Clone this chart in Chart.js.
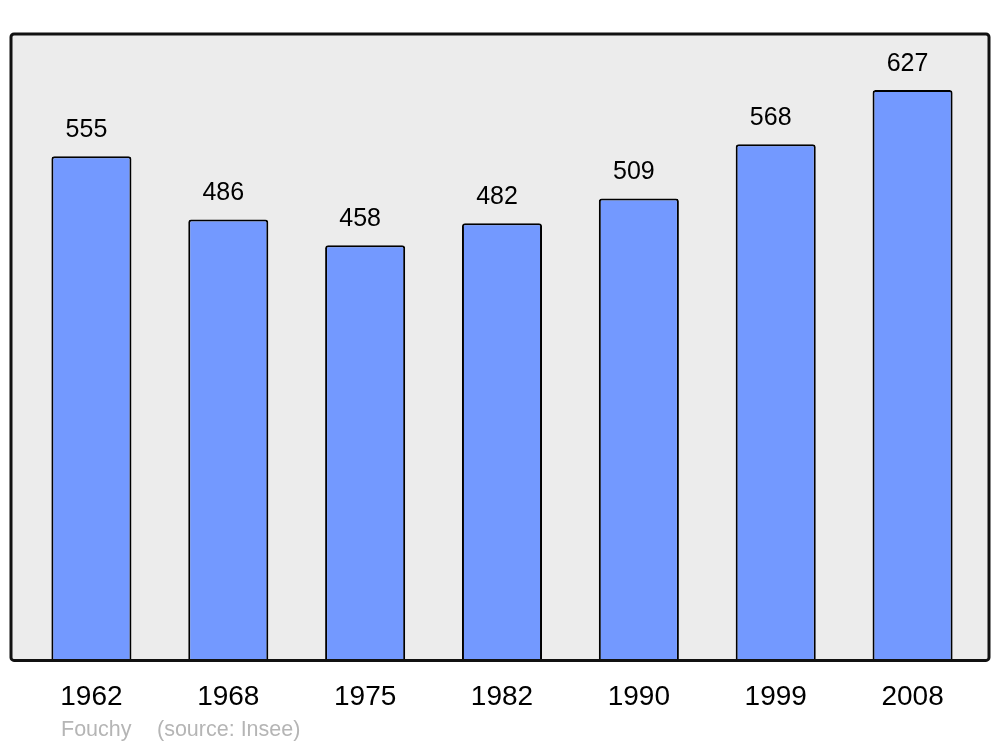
<!DOCTYPE html>
<html>
<head>
<meta charset="utf-8">
<script src="https://cdn.jsdelivr.net/npm/chart.js@4/dist/chart.umd.min.js"></script>
<style>
  html, body { margin: 0; padding: 0; background: #fff; }
  #wrap { width: 1000px; height: 747px; }
</style>
</head>
<body>
<div id="wrap"><canvas id="chart"></canvas></div>
<script>
const years = ['1962', '1968', '1975', '1982', '1990', '1999', '2008'];
const population = [555, 486, 458, 482, 509, 568, 627];
const townName = 'Fouchy';
const sourceText = '(source: Insee)';

const FONT = '"Liberation Sans", Arial, sans-serif';

// panel rectangle, a little wider than the chart area
function panel(ctx, area) {
  ctx.beginPath();
  ctx.roundRect(area.left - 12, area.top, area.width + 20, area.height + 1, 3);
}

const framePlugin = {
  id: 'frame',
  beforeDatasetsDraw(chart) {
    const { ctx, chartArea } = chart;
    ctx.save();
    panel(ctx, chartArea);
    ctx.fillStyle = '#ececec';
    ctx.fill();
    ctx.restore();
  },
  afterDatasetsDraw(chart) {
    const { ctx, chartArea } = chart;
    ctx.save();
    panel(ctx, chartArea);
    ctx.lineWidth = 3;
    ctx.strokeStyle = '#111';
    ctx.stroke();

    // values above the bars
    const meta = chart.getDatasetMeta(0);
    ctx.fillStyle = '#000';
    ctx.font = '25px ' + FONT;
    ctx.textAlign = 'center';
    ctx.textBaseline = 'middle';
    meta.data.forEach((bar, i) => {
      ctx.fillText(String(population[i]), bar.x - 5, bar.y - 26);
    });

    // footer
    ctx.fillStyle = '#b5b5b5';
    ctx.font = '21.5px ' + FONT;
    ctx.textAlign = 'left';
    ctx.fillText(townName, 61, 730);
    ctx.fillText(sourceText, 157, 730);
    ctx.restore();
  }
};

new Chart(document.getElementById('chart'), {
  type: 'bar',
  data: {
    labels: years,
    datasets: [{
      data: population,
      backgroundColor: '#7399ff',
      borderColor: '#000',
      borderWidth: 2,
      borderRadius: 3,
      borderSkipped: 'start',
      categoryPercentage: 1,
      barPercentage: 0.585,
      clip: 0
    }]
  },
  options: {
    responsive: true,
    maintainAspectRatio: false,
    animation: false,
    layout: {
      padding: { left: 23, right: 19, top: 34, bottom: 12 }
    },
    plugins: {
      legend: { display: false },
      tooltip: { enabled: false }
    },
    scales: {
      x: {
        grid: { display: false, drawTicks: false },
        border: { display: false },
        ticks: {
          color: '#000',
          padding: 21,
          font: { family: FONT, size: 28 }
        }
      },
      y: {
        display: false,
        min: 7,
        max: 688
      }
    }
  },
  plugins: [framePlugin]
});
</script>
</body>
</html>
